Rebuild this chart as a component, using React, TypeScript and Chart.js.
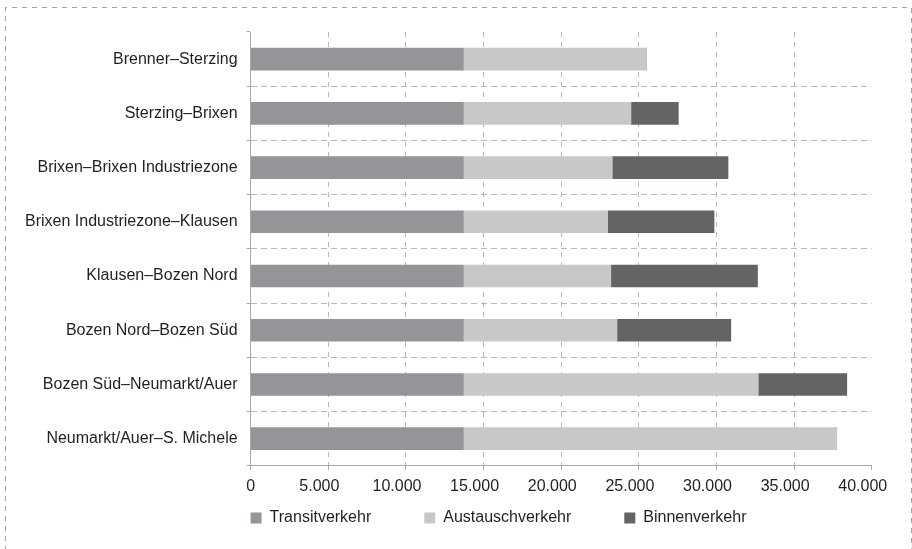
import { useEffect, useRef } from 'react';
import { Chart, registerables } from 'chart.js';

Chart.register(...registerables);

// Road sections, north to south
const SECTIONS = [
  'Brenner–Sterzing',
  'Sterzing–Brixen',
  'Brixen–Brixen Industriezone',
  'Brixen Industriezone–Klausen',
  'Klausen–Bozen Nord',
  'Bozen Nord–Bozen Süd',
  'Bozen Süd–Neumarkt/Auer',
  'Neumarkt/Auer–S. Michele',
];

// Vehicles per day by type of traffic
const TRANSIT = [13700, 13700, 13700, 13700, 13700, 13700, 13700, 13700];
const EXCHANGE = [11800, 10800, 9600, 9300, 9500, 9900, 19000, 24050];
const LOCAL = [0, 3050, 7450, 6850, 9450, 7330, 5700, 0];

const SERIES_NAMES = ['Transitverkehr', 'Austauschverkehr', 'Binnenverkehr'];
const SERIES_COLORS = ['#939598', '#c7c8ca', '#636466'];

const X_MAX = 40000;
const X_STEP = 5000;

const FONT_FAMILY = "'Liberation Sans', Arial, Helvetica, sans-serif";
const FONT_SIZE = 16;
const TEXT_COLOR = '#231f20';
const AXIS_COLOR = '#a7a9ac';
const GRID_COLOR = '#b9b9b9';
const LEGEND_GAP = 53;

const formatThousands = (v: number) =>
  String(v).replace(/\B(?=(\d{3})+(?!\d))/g, '.');

// Dashed frame around the whole figure (top, left and right edges)
const framePlugin = {
  id: 'figureFrame',
  beforeDraw(chart: any) {
    const { ctx, width, height } = chart;
    ctx.save();
    ctx.strokeStyle = '#a3a3a3';
    ctx.lineWidth = 1;
    ctx.setLineDash([5, 5]);
    ctx.beginPath();
    ctx.moveTo(5.5, height + 2);
    ctx.lineTo(5.5, 7.5);
    ctx.lineTo(width - 0.5, 7.5);
    ctx.lineTo(width - 0.5, height + 2);
    ctx.stroke();
    ctx.restore();
  },
};

// Legend starts flush with the plot's left edge, just below the value axis
const legendPlacement = {
  id: 'legendPlacement',
  afterLayout(chart: any) {
    const lg = chart.legend;
    const xs = chart.scales.x;
    if (!lg || !xs) return;
    const pad = LEGEND_GAP;
    const dx = chart.chartArea.left - (lg.left + pad);
    const top = xs.bottom + 15 - (pad + FONT_SIZE / 2);
    lg.left += dx;
    lg.right += dx;
    lg.top = top;
    lg.bottom = top + pad + FONT_SIZE + 10;
  },
};

export default function App() {
  const canvasRef = useRef<HTMLCanvasElement | null>(null);

  useEffect(() => {
    if (!canvasRef.current) return;
    const font = { family: FONT_FAMILY, size: FONT_SIZE };

    const chart = new Chart(canvasRef.current, {
      type: 'bar',
      data: {
        labels: SECTIONS,
        datasets: [TRANSIT, EXCHANGE, LOCAL].map((values, i) => ({
          label: SERIES_NAMES[i],
          data: values,
          backgroundColor: SERIES_COLORS[i],
          borderWidth: 0,
          barThickness: 22,
        })),
      },
      options: {
        indexAxis: 'y',
        animation: false,
        responsive: false,
        devicePixelRatio: 1,
        layout: { padding: { left: 16, right: 39, top: 32, bottom: 0 } },
        scales: {
          x: {
            stacked: true,
            min: 0,
            max: X_MAX,
            grid: {
              color: (c: any) =>
                c.tick && (c.tick.value === 0 || c.tick.value === X_MAX)
                  ? 'rgba(0,0,0,0)'
                  : GRID_COLOR,
              tickColor: AXIS_COLOR,
              tickLength: 4,
              lineWidth: 1,
            },
            border: { color: AXIS_COLOR, width: 1, dash: [5, 5] },
            ticks: {
              stepSize: X_STEP,
              color: TEXT_COLOR,
              font,
              padding: 7,
              maxRotation: 0,
              autoSkip: false,
              callback: (v: any) =>
                Number(v) === 0 ? '0' : formatThousands(Number(v)) + '    ',
            },
          },
          y: {
            stacked: true,
            grid: {
              color: (c: any) => (c.index === 0 ? 'rgba(0,0,0,0)' : GRID_COLOR),
              tickColor: AXIS_COLOR,
              tickLength: 4,
              lineWidth: 1,
              offset: true,
            },
            border: { color: AXIS_COLOR, width: 1, dash: [6, 4] },
            ticks: {
              color: TEXT_COLOR,
              font,
              padding: 9,
              autoSkip: false,
            },
          },
        },
        plugins: {
          legend: {
            position: 'bottom',
            align: 'start',
            maxHeight: 46,
            labels: {
              boxWidth: 11,
              boxHeight: 11,
              padding: LEGEND_GAP,
              color: TEXT_COLOR,
              font,
            },
          },
          tooltip: { enabled: false },
        },
      },
      plugins: [framePlugin, legendPlacement],
    } as any);

    return () => chart.destroy();
  }, []);

  return (
    <canvas
      ref={canvasRef}
      width={912}
      height={549}
      style={{ position: 'absolute', left: 0, top: 0, display: 'block' }}
    />
  );
}
